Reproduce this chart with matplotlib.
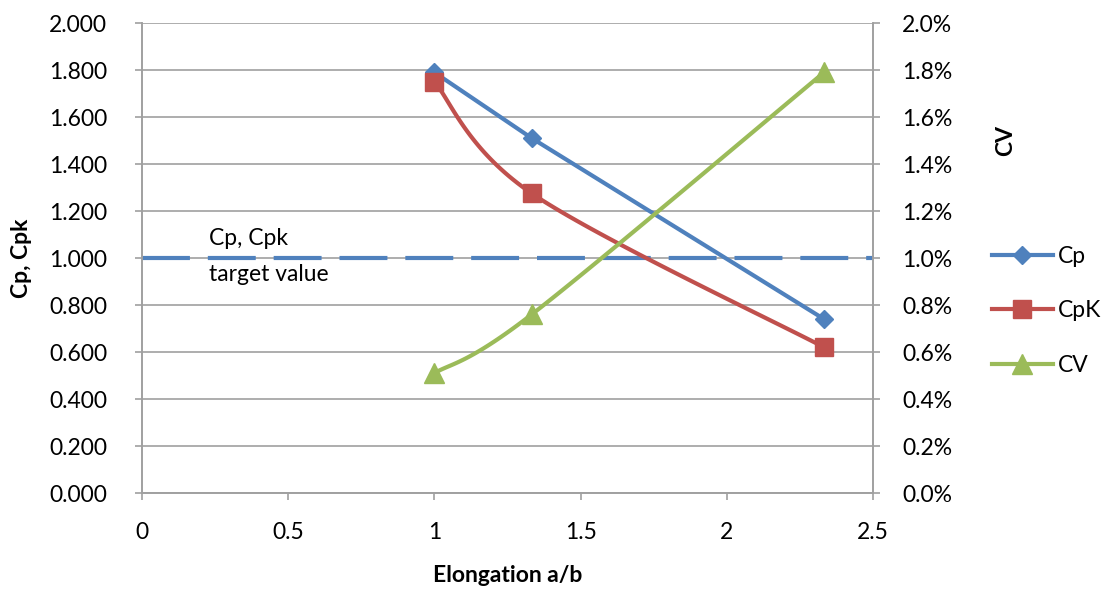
import numpy as np
import matplotlib
matplotlib.use("Agg")
import matplotlib.pyplot as plt
from matplotlib.ticker import FuncFormatter, MultipleLocator
from matplotlib.lines import Line2D

plt.rcParams['font.family'] = ['Lato', 'DejaVu Sans']

# data
elongation = [1.0, 1.333, 2.333]
cp = [1.790, 1.510, 0.740]
cpk = [1.750, 1.275, 0.620]
cv = [0.0051, 0.0076, 0.0179]   # fraction, shown as %
target = 1.0

BLUE = '#4f81bd'
RED = '#c0504d'
GREEN = '#9bbb59'
GRID = '#a0a0a0'


def smooth(xs, ys, n=40):
    """Excel-style smoothed line: Catmull-Rom Bezier through the points."""
    xs = np.asarray(xs, float)
    ys = np.asarray(ys, float)
    px = np.concatenate([[xs[0]], xs, [xs[-1]]])
    py = np.concatenate([[ys[0]], ys, [ys[-1]]])
    outx, outy = [], []
    t = np.linspace(0, 1, n)
    for i in range(1, len(px) - 2):
        p0 = np.array([px[i], py[i]])
        p3 = np.array([px[i + 1], py[i + 1]])
        c1 = p0 + (np.array([px[i + 1], py[i + 1]]) - np.array([px[i - 1], py[i - 1]])) / 6
        c2 = p3 - (np.array([px[i + 2], py[i + 2]]) - np.array([px[i], py[i]])) / 6
        b = ((1 - t) ** 3)[:, None] * p0 + (3 * (1 - t) ** 2 * t)[:, None] * c1 \
            + (3 * (1 - t) * t ** 2)[:, None] * c2 + (t ** 3)[:, None] * p3
        outx.extend(b[:, 0])
        outy.extend(b[:, 1])
    return outx, outy


fig = plt.figure(figsize=(11.12, 5.92), dpi=100)
ax = fig.add_axes([0.1277, 0.1672, 0.6573, 0.7939])
ax2 = ax.twinx()

fs = 16.5

# left axis
ax.set_xlim(0, 2.5)
ax.set_ylim(0, 2.0)
ax.yaxis.set_major_locator(MultipleLocator(0.2))
ax.xaxis.set_major_locator(MultipleLocator(0.5))
ax.yaxis.set_major_formatter(FuncFormatter(lambda v, p: f"{v:.3f}"))
ax.xaxis.set_major_formatter(FuncFormatter(lambda v, p: f"{v:g}"))
ax.grid(axis='y', color=GRID, lw=1.2)
ax.set_axisbelow(True)

ax2.set_ylim(0, 0.02)
ax2.yaxis.set_major_locator(MultipleLocator(0.002))
ax2.yaxis.set_major_formatter(FuncFormatter(lambda v, p: f"{v * 100:.1f}%"))

for a in (ax, ax2):
    for s in a.spines.values():
        s.set_color(GRID)
        s.set_linewidth(1.2)
    a.spines['top'].set_visible(False)
    a.tick_params(labelsize=fs, color=GRID, length=5, width=1.2, labelcolor='#000000')
ax.tick_params(axis='y', pad=20)
ax.tick_params(axis='x', pad=16)
ax2.tick_params(axis='y', pad=16)

# target line
ax.axhline(target, color=BLUE, lw=3, linestyle=(0, (11.5, 4.3)), zorder=2)
ax.text(0.23, 1.085, "Cp, Cpk", fontsize=fs, ha='left', va='center')
ax.text(0.23, 0.93, "target value", fontsize=fs, ha='left', va='center')

# series
ax.plot(elongation, cp, color=BLUE, lw=3, marker='D', ms=9, zorder=4)
sx, sy = smooth(elongation, cpk)
ax.plot(sx, sy, color=RED, lw=3, zorder=4)
ax.plot(elongation, cpk, color=RED, ls='none', marker='s', ms=13, zorder=5)
cx, cy = smooth(elongation, cv)
ax2.plot(cx, cy, color=GREEN, lw=3, zorder=4)
ax2.plot(elongation, cv, color=GREEN, ls='none', marker='^', ms=14, zorder=5)

# legend proxies with lines through markers
h = [Line2D([], [], color=BLUE, lw=3, marker='D', ms=9),
     Line2D([], [], color=RED, lw=3, marker='s', ms=13),
     Line2D([], [], color=GREEN, lw=3, marker='^', ms=14)]
fig.legend(h, ['Cp', 'CpK', 'CV'], loc='center left',
           bbox_to_anchor=(0.892, 0.4747), frameon=False, fontsize=fs,
           borderpad=0, borderaxespad=0,
           handlelength=2.66, labelspacing=1.45, handletextpad=0.2)

ax.set_ylabel("Cp, Cpk", fontsize=fs, fontweight='bold')
ax.yaxis.set_label_coords(-0.150, 0.5)
ax2.set_ylabel("CV", fontsize=fs, fontweight='bold')
ax2.yaxis.set_label_coords(1.167, 0.751)
ax.set_xlabel("Elongation a/b", fontsize=fs, fontweight='bold')
ax.xaxis.set_label_coords(0.5, -0.153)

fig.savefig("out.png", dpi=100)
